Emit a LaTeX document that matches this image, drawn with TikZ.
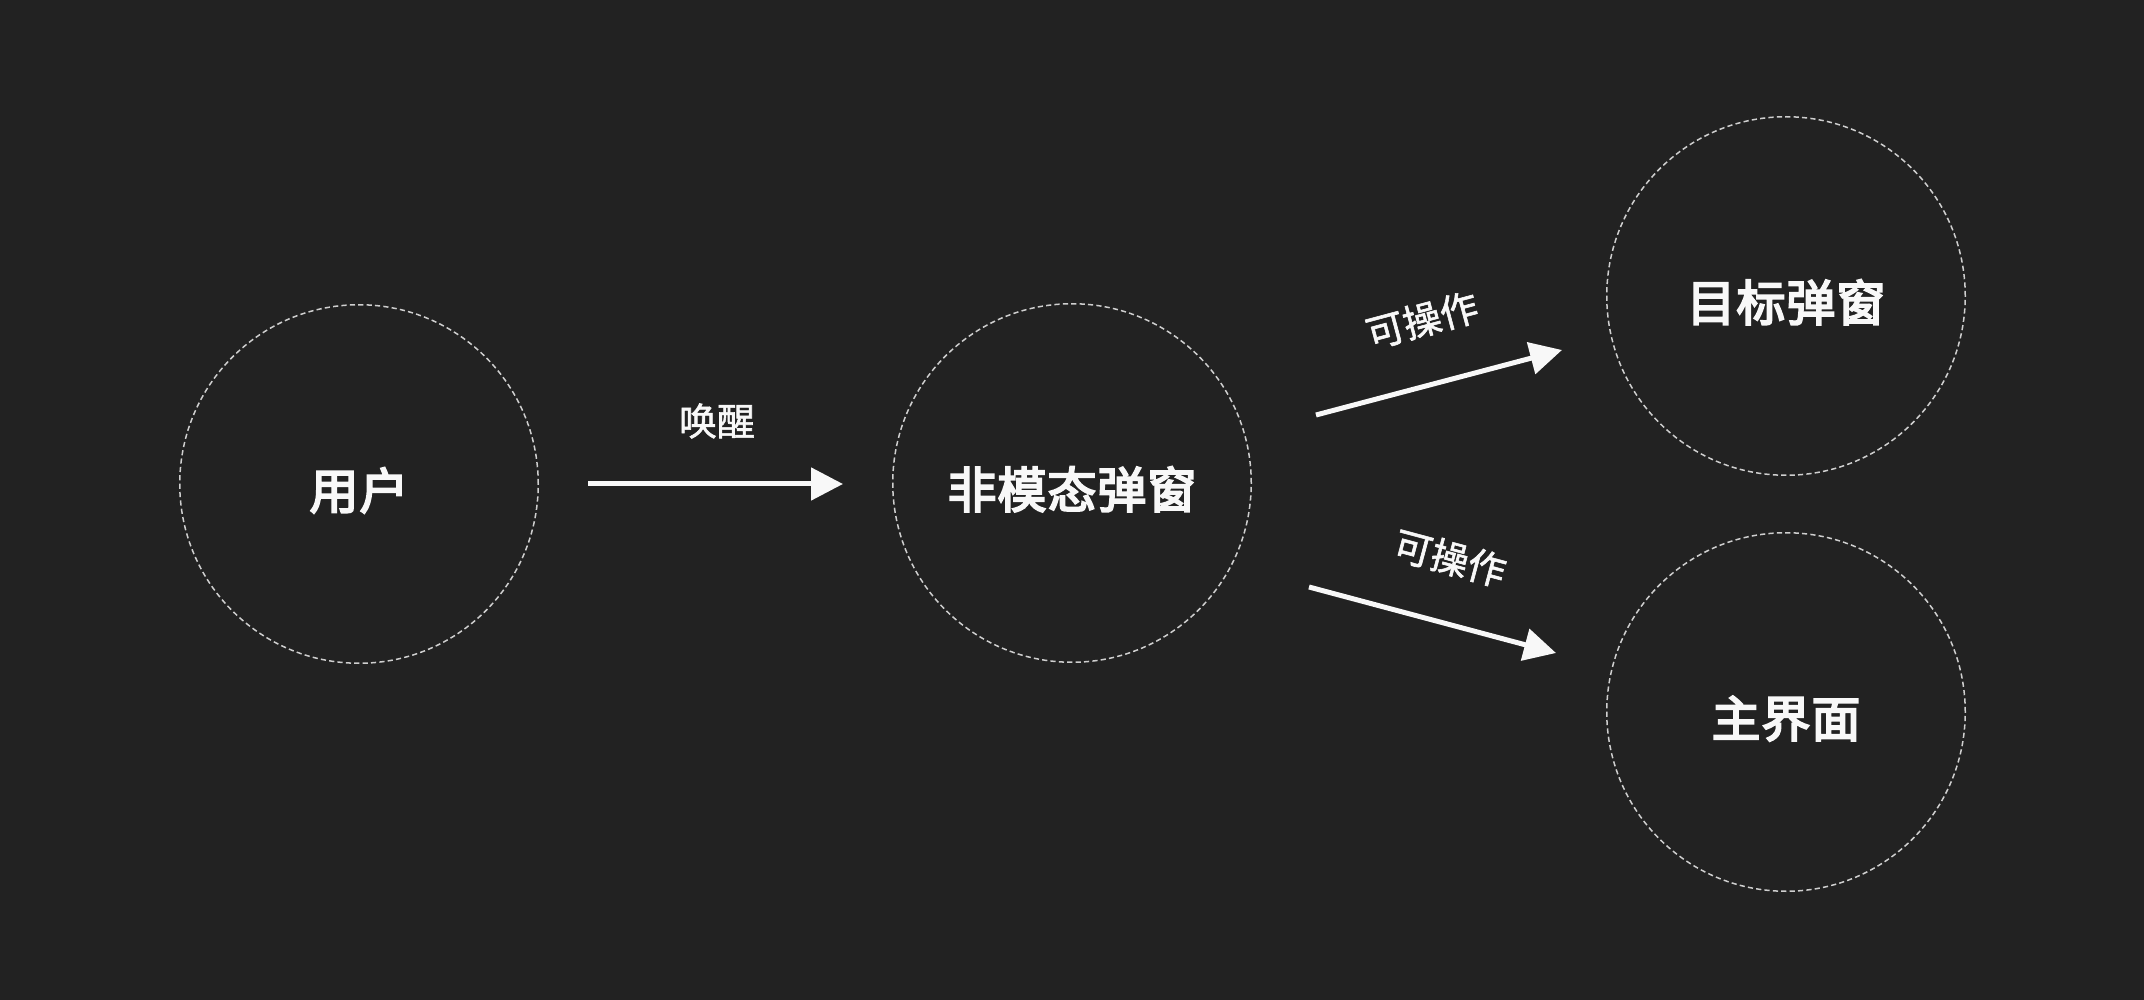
\documentclass[tikz,border=0pt]{standalone}
\usepackage{fontspec}
\setmainfont{Noto Sans CJK SC}
\usetikzlibrary{arrows.meta}
\definecolor{bgc}{HTML}{222222}
\definecolor{ringc}{HTML}{CFCFCF}
\definecolor{fgc}{HTML}{F8F8F8}
\tikzset{
  ring/.style={circle, draw=ringc, line width=0.75pt, dash pattern=on 2.6pt off 1.6pt,
    minimum size=180pt-0.75pt, inner sep=0pt, text=fgc, text height=25pt, text depth=0pt,
    font=\fontsize{24.5}{26}\selectfont\addfontfeature{FakeBold=4,LetterSpace=2}},
  flow/.style={draw=fgc, line width=2.5pt, -{Triangle[length=16pt,width=16pt]}},
  lbl/.style={text=fgc, font=\fontsize{19}{21}\selectfont\addfontfeature{FakeBold=1.5}, inner sep=0pt},
}
\begin{document}
\begin{tikzpicture}[x=0.5pt,y=-0.5pt]
\fill[bgc] (0,0) rectangle (2144,1000);
\useasboundingbox (0,0) rectangle (2144,1000);
\node[ring] (user) at (359,484) {用户};
\node[ring] (modal) at (1072,483) {非模态弹窗};
\node[ring] (target) at (1786,296) {目标弹窗};
\node[ring] (main) at (1786,712) {主界面};
\coordinate (a1s) at (588,484);
\coordinate (a1e) at (843,484);
\coordinate (a2s) at (1316,415);
\coordinate (a2e) at (1562,350);
\coordinate (a3s) at (1309,587);
\coordinate (a3e) at (1556,653);
\draw[flow] (a1s) -- (a1e);
\draw[flow] (a2s) -- (a2e);
\draw[flow] (a3s) -- (a3e);
\node[lbl] (l1) at (717,421) {唤醒};
\node[lbl, rotate=15] (l2) at (1422,320) {可操作};
\node[lbl, rotate=-15] (l3) at (1450,558) {可操作};
\end{tikzpicture}
\end{document}
